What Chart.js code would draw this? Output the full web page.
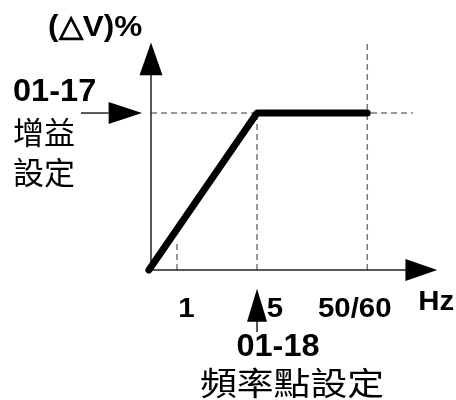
<!DOCTYPE html>
<html>
<head>
<meta charset="utf-8">
<script src="https://cdn.jsdelivr.net/npm/chart.js@4.4.1/dist/chart.umd.min.js"></script>
<style>
  body { margin: 0; background: #fff; }
  #wrap { width: 456px; height: 400px; }
</style>
</head>
<body>
<div id="wrap"><canvas id="chart"></canvas></div>
<script>
// schematic units: knee frequency sits at x = 100, gain level at y = 100
const curveX = [-2, 100, 204];
const curveY = [0, 100, 100];
const freqTicks = [24.5, 100, 204];
const freqLabels = ['1', '5', '50/60'];
const gainLevel = 100;
const axisLabelY = '(△V)%';
const axisLabelX = 'Hz';
const gainCode = '01-17';
const gainName = ['增益', '設定'];
const freqCode = '01-18';
const freqName = '頻率點設定';

const SANS = '"Liberation Sans", Arial, sans-serif';
const CJK = '"Noto Sans CJK TC", sans-serif';

function arrowHead(c, tipX, tipY, baseX, baseY, half) {
    const dx = tipX - baseX, dy = tipY - baseY;
    const len = Math.hypot(dx, dy);
    const nx = -dy / len * half, ny = dx / len * half;
    c.beginPath();
    c.moveTo(tipX, tipY);
    c.lineTo(baseX + nx, baseY + ny);
    c.lineTo(baseX - nx, baseY - ny);
    c.closePath();
    c.fill();
}

// text drawn slightly stretched sideways, like the original artwork
function label(c, str, x, y, font, align, sx) {
    c.save();
    c.font = font;
    c.textAlign = align;
    c.translate(x, y);
    c.scale(sx, 1);
    c.fillText(str, 0, 0);
    c.restore();
}

const schematic = {
    id: 'schematic',
    beforeDatasetsDraw(chart) {
        const c = chart.ctx;
        const x = chart.scales.x, y = chart.scales.y;
        const px = v => x.getPixelForValue(v);
        const py = v => y.getPixelForValue(v);
        c.save();

        // gray guide lines
        c.strokeStyle = '#777';
        c.lineWidth = 1.5;
        c.setLineDash([6, 4]);
        const guides = [
            [0, gainLevel, 247, gainLevel],
            [freqTicks[1], 0, freqTicks[1], gainLevel],
            [freqTicks[2], 0, freqTicks[2], 145]
        ];
        guides.forEach(g => {
            c.beginPath();
            c.moveTo(px(g[0]), py(g[1]));
            c.lineTo(px(g[2]), py(g[3]));
            c.stroke();
        });
        c.strokeStyle = '#333';
        c.lineWidth = 1;
        c.beginPath();
        c.moveTo(px(freqTicks[0]), py(0));
        c.lineTo(px(freqTicks[0]), py(19));
        c.stroke();
        c.setLineDash([]);

        // axes
        c.strokeStyle = '#222';
        c.fillStyle = '#000';
        c.lineWidth = 1.5;
        c.beginPath();
        c.moveTo(px(0), py(0));
        c.lineTo(px(0), py(130));
        c.moveTo(px(-1), py(0));
        c.lineTo(px(250), py(0));
        c.stroke();
        arrowHead(c, px(0), py(145), px(0), py(124), 11.5);
        arrowHead(c, px(270), py(0), px(240), py(0), 11);

        // gain pointer
        c.beginPath();
        c.moveTo(px(-66), py(gainLevel));
        c.lineTo(px(-40), py(gainLevel));
        c.stroke();
        arrowHead(c, px(-8.5), py(gainLevel), px(-40), py(gainLevel), 11);

        // knee frequency pointer
        c.beginPath();
        c.moveTo(px(freqTicks[1]), py(-39.5));
        c.lineTo(px(freqTicks[1]), py(-32));
        c.stroke();
        arrowHead(c, px(freqTicks[1]), py(-12), px(freqTicks[1]), py(-33), 10);
        c.restore();
    },
    afterDraw(chart) {
        const c = chart.ctx;
        const x = chart.scales.x, y = chart.scales.y;
        const px = v => x.getPixelForValue(v);
        const py = v => y.getPixelForValue(v);
        c.save();
        c.fillStyle = '#000';
        c.textBaseline = 'alphabetic';

        const tickFont = 'bold 28px ' + SANS;
        const codeFont = 'bold 31px ' + SANS;
        const shift = [9.5, 18, -12.5];
        freqLabels.forEach((t, i) =>
            label(c, t, px(freqTicks[i]) + shift[i], py(0) + 47, tickFont, 'center', 1.05));
        label(c, axisLabelX, px(270) - 19, py(0) + 40, tickFont, 'left', 1.05);
        label(c, freqCode, px(freqTicks[1]) + 21, py(0) + 86, codeFont, 'center', 1.05);
        label(c, gainCode, 13, py(gainLevel) - 12, codeFont, 'left', 1.05);
        label(c, axisLabelY, px(0) - 103, py(145) - 6, 'bold 30px ' + SANS, 'left', 1.05);

        label(c, gainName[0], 13, py(gainLevel) + 31, '31px ' + CJK, 'left', 1);
        label(c, gainName[1], 13, py(gainLevel) + 71, '31px ' + CJK, 'left', 1);
        label(c, freqName, px(freqTicks[1]) + 35, py(0) + 125, '32px ' + CJK, 'center', 1.15);
        c.restore();
    }
};

new Chart(document.getElementById('chart'), {
    type: 'line',
    data: {
        datasets: [{
            data: curveX.map((v, i) => ({ x: v, y: curveY[i] })),
            borderColor: '#000',
            borderWidth: 7,
            borderCapStyle: 'round',
            borderJoinStyle: 'round',
            pointRadius: 0,
            tension: 0
        }]
    },
    options: {
        responsive: true,
        maintainAspectRatio: false,
        animation: false,
        layout: { padding: 0 },
        plugins: { legend: { display: false }, tooltip: { enabled: false } },
        scales: {
            x: { type: 'linear', min: -142.45, max: 287.7, display: false },
            y: { type: 'linear', min: -82.8, max: 172, display: false }
        }
    },
    plugins: [schematic]
});
</script>
</body>
</html>
